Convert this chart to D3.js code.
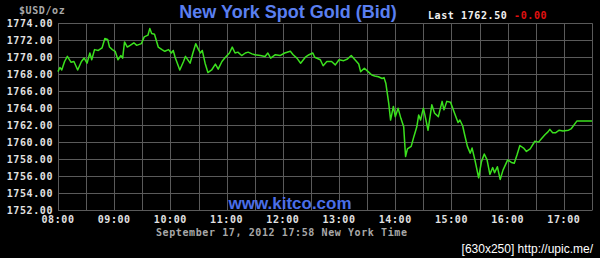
<!DOCTYPE html>
<html>
<head>
<meta charset="utf-8">
<script src="https://cdn.jsdelivr.net/npm/d3@7"></script>
<style>
  body { margin: 0; background: #000; overflow: hidden; }
  .mono { font-family: "DejaVu Sans Mono", monospace; font-weight: bold; font-size: 10px; letter-spacing: 0.6px; }
</style>
</head>
<body>
<script>
// Gold bid, Sept 17 2012
var times = ["08:00","08:02","08:04","08:07","08:10","08:14","08:17","08:21","08:25","08:28",
  "08:31","08:34","08:36","08:39","08:43","08:47","08:50","08:53","08:55","08:58",
  "09:01","09:04","09:07","09:09","09:11","09:14","09:17","09:21","09:24","09:29",
  "09:32","09:36","09:38","09:40","09:43","09:47","09:51","09:54","09:58","10:01",
  "10:03","10:05","10:10","10:14","10:16","10:21","10:24","10:27","10:30","10:32",
  "10:34","10:37","10:40","10:44","10:48","10:51","10:55","10:58","11:03","11:06",
  "11:09","11:12","11:16","11:20","11:23","11:27","11:30","11:36","11:41","11:44",
  "11:47","11:52","11:57","12:02","12:08","12:11","12:15","12:19","12:24","12:28",
  "12:32","12:34","12:40","12:43","12:47","12:52","12:56","13:00","13:05","13:09",
  "13:13","13:17","13:21","13:23","13:27","13:31","13:35","13:38","13:42","13:46",
  "13:48","13:50","13:53","13:55","13:58","14:00","14:03","14:06","14:09","14:11",
  "14:13","14:17","14:20","14:23","14:25","14:27","14:30","14:32","14:35","14:39",
  "14:42","14:46","14:50","14:52","14:55","14:59","15:04","15:07","15:09","15:12",
  "15:14","15:17","15:20","15:22","15:25","15:29","15:32","15:35","15:38","15:41",
  "15:44","15:46","15:49","15:52","15:55","16:00","16:04","16:07","16:10","16:13",
  "16:17","16:20","16:24","16:29","16:33","16:36","16:40","16:43","16:45","16:48",
  "16:51","16:55","16:59","17:05","17:08","17:14","17:30"];
var prices = [1768.3,1768.8,1768.5,1769.5,1770.1,1769.4,1769.5,1768.5,1769.5,1769.9,
  1769.3,1770.5,1769.7,1770.9,1770.8,1771.1,1772.2,1772.1,1771.2,1770.9,
  1770.7,1769.7,1770.2,1769.9,1771.8,1771.2,1771.4,1771.7,1771.4,1771.6,
  1772.4,1772.6,1773.4,1772.8,1772.7,1771.2,1770.9,1770.7,1770.9,1770.5,
  1770.8,1770.0,1768.5,1769.5,1770.1,1769.3,1770.5,1771.6,1770.9,1770.5,
  1770.8,1769.3,1768.2,1768.5,1769.2,1768.6,1769.5,1769.9,1770.5,1771.2,
  1770.5,1770.6,1770.2,1770.5,1770.6,1770.4,1770.3,1770.2,1770.1,1770.5,
  1769.9,1770.3,1770.2,1770.5,1770.7,1770.3,1769.9,1769.3,1770.0,1770.3,
  1770.5,1770.0,1769.7,1769.0,1769.5,1769.5,1769.1,1769.7,1769.6,1769.8,
  1770.2,1769.7,1769.2,1768.3,1768.7,1768.3,1767.9,1767.8,1767.7,1767.5,
  1767.6,1766.9,1764.6,1762.6,1764.2,1763.0,1764.0,1762.8,1761.8,1758.3,
  1759.2,1759.5,1760.7,1761.8,1763.2,1762.6,1764.0,1763.0,1761.4,1764.4,
  1763.4,1763.0,1764.8,1763.8,1764.8,1764.7,1763.2,1762.3,1762.6,1761.9,
  1760.9,1759.5,1758.7,1759.3,1757.9,1755.8,1757.7,1758.6,1757.9,1756.2,
  1757.0,1756.4,1757.1,1755.6,1756.7,1757.9,1757.6,1757.5,1758.5,1759.6,
  1759.3,1758.9,1759.2,1760.1,1760.0,1760.4,1760.9,1761.2,1761.5,1761.1,
  1761.1,1761.4,1761.3,1761.4,1761.6,1762.5,1762.5];
var yTicks = [1752,1754,1756,1758,1760,1762,1764,1766,1768,1770,1772,1774];
var hourLabels = ["08:00","09:00","10:00","11:00","12:00","13:00","14:00","15:00","16:00","17:00"];
var lastPrice = "1762.50";
var change = "-0.00";

var width = 600, height = 258;
var svg = d3.select('body').append('svg')
  .attr('width', width)
  .attr('height', height);

svg.append('rect').attr('width', width).attr('height', height).attr('fill', '#000');

var parse = d3.timeParse('%H:%M');
var x = d3.scaleTime()
  .domain([parse('08:00'), parse('17:30')])
  .range([58, 592]);
var y = d3.scaleLinear()
  .domain([1752, 1774])
  .range([210, 23.3]);

// grid, every half hour and every 2 dollars
var halfHours = d3.timeMinute.every(30).range(parse('08:00'), d3.timeMinute.offset(parse('17:30'), 1));
svg.append('g').selectAll('line.v')
  .data(halfHours)
  .enter().append('line')
  .attr('x1', function(d) { return Math.round(x(d)) + 0.5; })
  .attr('x2', function(d) { return Math.round(x(d)) + 0.5; })
  .attr('y1', y(1774)).attr('y2', y(1752))
  .attr('stroke', '#5a5a5a').attr('stroke-width', 1);

svg.append('g').selectAll('line.h')
  .data(yTicks)
  .enter().append('line')
  .attr('x1', 58).attr('x2', 592.5)
  .attr('y1', function(d) { return Math.round(y(d)) + 0.5; })
  .attr('y2', function(d) { return Math.round(y(d)) + 0.5; })
  .attr('stroke', '#5a5a5a').attr('stroke-width', 1);

// y labels
svg.append('g').selectAll('text')
  .data(yTicks)
  .enter().append('text')
  .attr('class', 'mono')
  .attr('x', 53)
  .attr('y', function(d) { return y(d) + 4; })
  .attr('text-anchor', 'end')
  .attr('fill', '#e2e2e2')
  .text(function(d) { return d3.format('.2f')(d); });

// x labels
svg.append('g').selectAll('text')
  .data(hourLabels)
  .enter().append('text')
  .attr('class', 'mono')
  .attr('x', function(d) { return x(parse(d)); })
  .attr('y', 223)
  .attr('text-anchor', 'middle')
  .attr('fill', '#e2e2e2')
  .text(function(d) { return d; });

// price line
var data = times.map(function(t, i) { return { t: parse(t), v: prices[i] }; });
var line = d3.line()
  .x(function(d) { return x(d.t); })
  .y(function(d) { return y(d.v); })
  .curve(d3.curveLinear);

svg.append('path')
  .attr('d', line(data))
  .attr('fill', 'none')
  .attr('stroke', '#3be01e')
  .attr('stroke-width', 1.5)
  .attr('stroke-linejoin', 'round');

// texts
svg.append('text')
  .attr('class', 'mono')
  .attr('x', 19).attr('y', 14)
  .attr('fill', '#a8a8a8')
  .text('$USD/oz');

svg.append('text')
  .attr('x', 288).attr('y', 18)
  .attr('text-anchor', 'middle')
  .attr('font-family', 'Liberation Sans, Arial, sans-serif')
  .attr('font-weight', 'bold')
  .attr('font-size', 18)
  .attr('fill', '#5a7ff0')
  .text('New York Spot Gold (Bid)');

var last = svg.append('text')
  .attr('class', 'mono')
  .attr('x', 428).attr('y', 19);
last.append('tspan').attr('fill', '#f2f2f2').text('Last ' + lastPrice + ' ');
last.append('tspan').attr('fill', '#e01010').text(change);

svg.append('text')
  .attr('x', 290).attr('y', 209)
  .attr('text-anchor', 'middle')
  .attr('font-family', 'Liberation Sans, Arial, sans-serif')
  .attr('font-weight', 'bold')
  .attr('font-size', 17)
  .attr('fill', '#4a6ee8')
  .text('www.kitco.com');

svg.append('text')
  .attr('class', 'mono')
  .attr('x', 156).attr('y', 235.5)
  .attr('fill', '#a8a8a8')
  .text('September 17, 2012 17:58 New York Time');

svg.append('text')
  .attr('x', 593).attr('y', 253)
  .attr('text-anchor', 'end')
  .attr('font-family', 'Liberation Sans Narrow, Liberation Sans, sans-serif')
  .attr('font-size', 12)
  .attr('fill', '#ffffff')
  .text('[630x250] http://upic.me/');
</script>
</body>
</html>
